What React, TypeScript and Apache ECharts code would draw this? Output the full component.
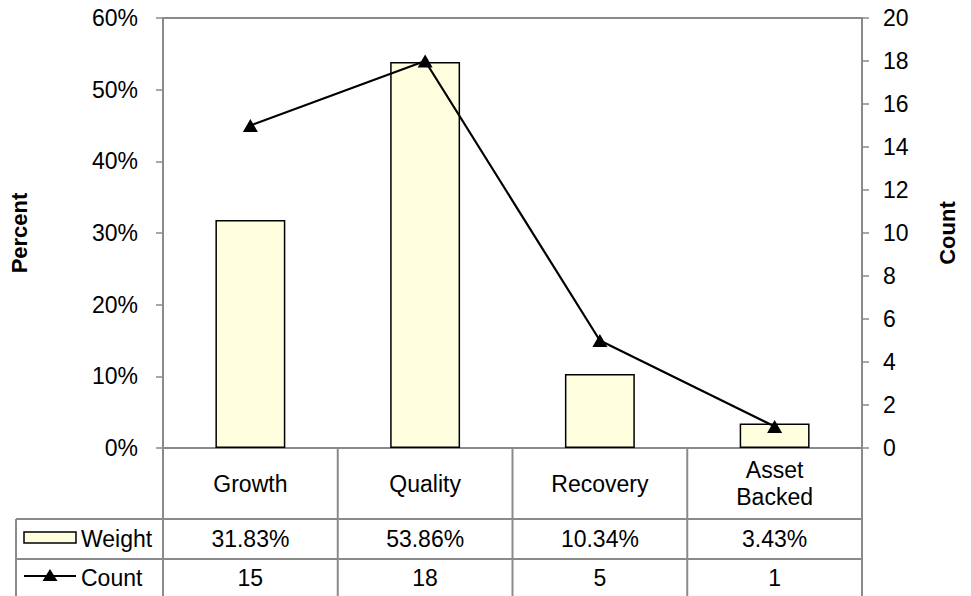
import React, { useEffect, useRef } from "react";
import * as echarts from "echarts";

const categories = ["Growth", "Quality", "Recovery", "Asset\nBacked"];
const weights = [31.83, 53.86, 10.34, 3.43];
const counts = [15, 18, 5, 1];
const seriesNames = ["Weight", "Count"];

const FONT = "'Liberation Sans', Arial, sans-serif";
const FS = 23;
const GRAY = "#8a8a8a";
const BAR_FILL = "#FFFFE0";

export default function App() {
  const ref = useRef<HTMLDivElement>(null);
  useEffect(() => {
    if (!ref.current) return;
    const chart = echarts.init(ref.current, null, { renderer: "svg" });
    const gridLeft = 163;
    const gridRight = 971 - 862;
    const gridTop = 18;
    const plotBottom = 448;
    const gridBottom = 596 - plotBottom;
    const option: any = {
      animation: false,
      backgroundColor: "#ffffff",
      textStyle: { fontFamily: FONT },
      grid: {
        left: gridLeft,
        right: gridRight,
        top: gridTop,
        bottom: gridBottom,
        show: true,
        borderColor: GRAY,
        borderWidth: 2,
        backgroundColor: "transparent",
      },
      xAxis: {
        type: "category",
        data: categories,
        axisLine: { lineStyle: { color: GRAY, width: 2 } },
        axisTick: { show: false },
        axisLabel: { show: false },
      },
      yAxis: [
        {
          type: "value",
          min: 0,
          max: 60,
          interval: 10,
          name: "Percent",
          nameLocation: "middle",
          nameRotate: 90,
          nameGap: 133,
          nameTextStyle: { fontFamily: FONT, fontSize: FS - 1, fontWeight: "bold", color: "#000" },
          axisLine: { show: true, lineStyle: { color: GRAY, width: 2 } },
          axisTick: { show: true, length: 7, lineStyle: { color: GRAY, width: 1.5 } },
          splitLine: { show: false },
          axisLabel: {
            formatter: "{value}%",
            fontFamily: FONT,
            fontSize: FS,
            color: "#000",
            margin: 25,
          },
        },
        {
          type: "value",
          min: 0,
          max: 20,
          interval: 2,
          position: "right",
          name: "Count",
          nameLocation: "middle",
          nameRotate: 90,
          nameGap: 74,
          nameTextStyle: { fontFamily: FONT, fontSize: FS - 1, fontWeight: "bold", color: "#000" },
          axisLine: { show: true, lineStyle: { color: GRAY, width: 2 } },
          axisTick: { show: true, length: 7, lineStyle: { color: GRAY, width: 1.5 } },
          splitLine: { show: false },
          axisLabel: { fontFamily: FONT, fontSize: FS, color: "#000", margin: 21 },
        },
      ],
      series: [
        {
          name: seriesNames[0],
          type: "bar",
          data: weights,
          barWidth: "40%",
          itemStyle: { color: BAR_FILL, borderColor: "#000", borderWidth: 1.5 },
        },
        {
          name: seriesNames[1],
          type: "line",
          yAxisIndex: 1,
          data: counts,
          symbol: "triangle",
          symbolSize: [15, 13],
          lineStyle: { color: "#000", width: 2.2 },
          itemStyle: { color: "#000" },
        },
      ],
    };
    chart.setOption(option);

    const colW =
      (chart.convertToPixel({ xAxisIndex: 0 }, 1) as number) -
      (chart.convertToPixel({ xAxisIndex: 0 }, 0) as number);
    const centers = categories.map((_, i) => chart.convertToPixel({ xAxisIndex: 0 }, i) as number);
    const tableLeft = 16;
    const rowCatBottom = 519;
    const rowWBottom = 559;
    const tableBottom = 600;
    const plotRight = 971 - gridRight;
    const lineStyle = { stroke: GRAY, lineWidth: 2 };
    const g: any[] = [];
    g.push({ type: "line", shape: { x1: tableLeft, y1: rowCatBottom, x2: plotRight, y2: rowCatBottom }, style: lineStyle });
    g.push({ type: "line", shape: { x1: tableLeft, y1: rowWBottom, x2: plotRight, y2: rowWBottom }, style: lineStyle });
    g.push({ type: "line", shape: { x1: tableLeft, y1: rowCatBottom, x2: tableLeft, y2: tableBottom }, style: lineStyle });
    g.push({ type: "line", shape: { x1: gridLeft, y1: plotBottom, x2: gridLeft, y2: tableBottom }, style: lineStyle });
    centers.forEach((c) => {
      const xr = c + colW / 2;
      g.push({ type: "line", shape: { x1: xr, y1: plotBottom, x2: xr, y2: tableBottom }, style: lineStyle });
    });
    const rowCatMid = (plotBottom + rowCatBottom) / 2;
    const rowWMid = (rowCatBottom + rowWBottom) / 2;
    const rowCMid = 578;
    categories.forEach((cat, i) => {
      g.push({
        type: "text",
        x: centers[i],
        y: rowCatMid,
        style: { text: cat, fontFamily: FONT, fontSize: FS, fill: "#000", align: "center", verticalAlign: "middle", lineHeight: 27 },
      });
      g.push({
        type: "text",
        x: centers[i],
        y: rowWMid,
        style: { text: weights[i].toFixed(2) + "%", fontFamily: FONT, fontSize: FS, fill: "#000", align: "center", verticalAlign: "middle" },
      });
      g.push({
        type: "text",
        x: centers[i],
        y: rowCMid,
        style: { text: String(counts[i]), fontFamily: FONT, fontSize: FS, fill: "#000", align: "center", verticalAlign: "middle" },
      });
    });
    g.push({ type: "rect", shape: { x: 24, y: 532, width: 52, height: 11 }, style: { fill: BAR_FILL, stroke: "#000", lineWidth: 1.5 } });
    g.push({ type: "text", x: 81, y: rowWMid, style: { text: seriesNames[0], fontFamily: FONT, fontSize: FS, fill: "#000", align: "left", verticalAlign: "middle" } });
    g.push({ type: "line", shape: { x1: 24, y1: 576, x2: 76, y2: 576 }, style: { stroke: "#000", lineWidth: 2 } });
    g.push({ type: "polygon", shape: { points: [[50, 569], [57.5, 581], [42.5, 581]] }, style: { fill: "#000" } });
    g.push({ type: "text", x: 81, y: rowCMid, style: { text: seriesNames[1], fontFamily: FONT, fontSize: FS, fill: "#000", align: "left", verticalAlign: "middle" } });
    chart.setOption({ graphic: g });

    return () => chart.dispose();
  }, []);
  return <div ref={ref} style={{ position: "fixed", left: 0, top: 0, width: 971, height: 596 }} />;
}
